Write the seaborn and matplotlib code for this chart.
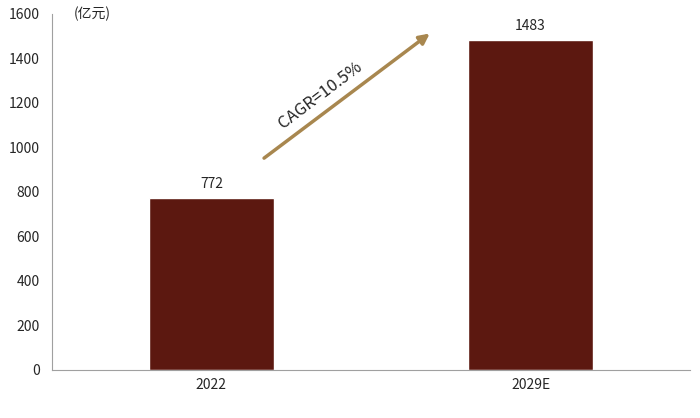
import matplotlib
matplotlib.use("Agg")
import matplotlib.pyplot as plt
import seaborn as sns
import pandas as pd

categories = ["2022", "2029E"]
values = [772, 1483]

sns.set_style("white")
plt.rcParams['font.family'] = ['Noto Sans CJK SC', 'DejaVu Sans']

fig = plt.figure(figsize=(7, 4.18), dpi=100)
ax = fig.add_axes([0.074, 0.115, 0.912, 0.852])
df = pd.DataFrame({"cat": categories, "val": values})
sns.barplot(data=df, x="cat", y="val", color="#5C1810", saturation=1, width=0.39, ax=ax)
ax.set_xlim(-0.5, 1.5)
ax.set_ylim(0, 1600)
ax.set_yticks(range(0, 1601, 200))
ax.set_xlabel(""); ax.set_ylabel("")
for s in ["top", "right"]:
    ax.spines[s].set_visible(False)
for s in ["left", "bottom"]:
    ax.spines[s].set_color("#A0A0A0")
ax.set_xticks([0, 1], categories)
ax.set_xticks([-0.5, 0.5, 1.5], minor=True)
ax.tick_params(axis="x", which="major", length=0, labelsize=10, pad=6)
ax.tick_params(axis="x", which="minor", length=5, color="#A0A0A0", direction="out")
ax.tick_params(axis="y", length=5, color="#A0A0A0", direction="out", labelsize=10)
for i, v in enumerate(values):
    ax.text(i, v + 30, str(v), ha="center", va="bottom", fontsize=10)
ax.text(-0.43, 1600, "(亿元)", ha="left", va="center", fontsize=10)
ax.annotate("", xy=(0.691, 1519), xytext=(0.158, 944),
            arrowprops=dict(arrowstyle="-|>", color="#A8874F", lw=2.5, mutation_scale=15))
ax.text(0.34, 1236, "CAGR=10.5%", rotation=37, ha="center", va="center", fontsize=12)
fig.savefig("out.png", dpi=100)
